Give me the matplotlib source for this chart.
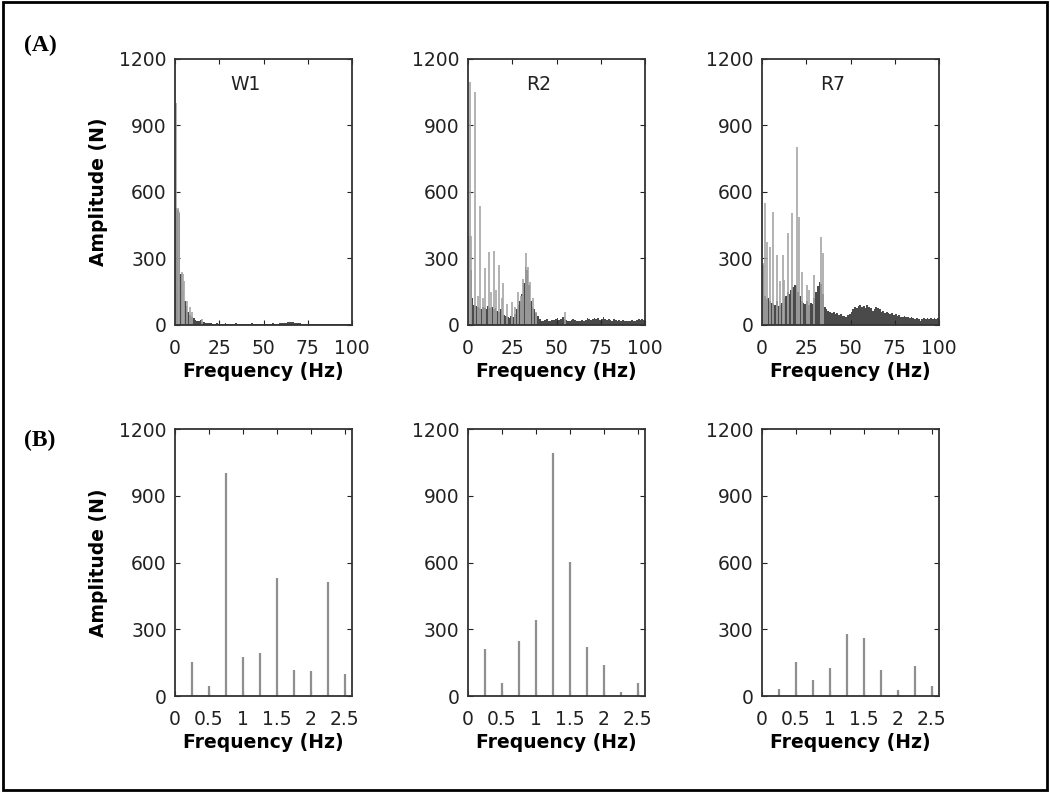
import numpy as np
import matplotlib as mpl
mpl.use('agg')
import matplotlib.pyplot as plt
from matplotlib.patches import Rectangle

plt.rcParams['font.family'] = ['DejaVu Sans']

##--##--  data  --##--##
# (A) spectra: dark "base" level per 1 Hz bin (0..99 Hz) and lighter spikes
w1_base = [530, 520, 505, 230, 160, 110, 85, 60, 45, 38,
           30, 22, 18, 16, 22, 15, 12, 10, 9, 8,
           7, 6, 6, 7, 5, 6, 5, 6, 7, 5,
           6, 5, 6, 5, 7, 6, 5, 6, 5, 6,
           5, 6, 5, 7, 6, 5, 6, 5, 6, 5,
           6, 5, 6, 5, 6, 7, 6, 5, 6, 7,
           8, 9, 10, 12, 14, 13, 12, 10, 9, 8,
           7, 6, 6, 5, 6, 5, 6, 5, 5, 6,
           5, 5, 6, 5, 5, 4, 5, 5, 4, 5,
           4, 5, 4, 4, 5, 4, 4, 5, 4, 4]
w1_spk_f = [0.75, 1.5, 2.25, 3.75, 4.5, 5.25, 6.5, 8.3, 9.5, 15.5]
w1_spk_a = [1000, 530, 510, 240, 230, 200, 110, 80, 60, 28]

r2_base = [190, 250, 120, 90, 85, 80, 75, 70, 80, 75,
           70, 85, 75, 80, 70, 75, 65, 60, 70, 55,
           45, 40, 35, 30, 40, 35, 50, 70, 90, 110,
           140, 190, 260, 250, 180, 110, 80, 70, 55, 40,
           25, 20, 18, 22, 25, 20, 18, 24, 22, 26,
           30, 22, 28, 35, 25, 22, 20, 18, 24, 28,
           22, 18, 16, 20, 22, 18, 24, 30, 26, 22,
           28, 32, 26, 30, 24, 28, 34, 26, 22, 28,
           24, 20, 26, 22, 18, 24, 20, 22, 18, 16,
           20, 18, 22, 16, 20, 24, 28, 22, 26, 24]
r2_spk_f = [0.25, 0.5, 0.75, 1.25, 1.75, 3.75, 5.5, 7.0, 8.5, 9.4, 11.7, 13.0,
            14.7, 16.0, 17.5, 19.0, 20.0, 22.2, 25.0, 26.5, 28.3, 30.0, 31.0,
            33.0, 34.0, 35.0, 36.5, 38.7, 55.0]
r2_spk_a = [390, 400, 400, 1095, 400, 1050, 130, 537, 120, 256, 331, 150,
            334, 160, 271, 120, 191, 95, 102, 80, 150, 130, 206,
            323, 260, 195, 120, 60, 60]

r7_base = [270, 130, 115, 120, 110, 100, 95, 90, 110, 85,
           90, 100, 120, 130, 150, 140, 160, 170, 180, 175,
           150, 130, 110, 100, 95, 110, 90, 100, 95, 120,
           150, 175, 195, 185, 140, 80, 70, 65, 60, 55,
           60, 50, 55, 45, 50, 40, 42, 38, 45, 50,
           60, 70, 80, 75, 85, 90, 80, 85, 75, 90,
           80, 75, 65, 70, 80, 75, 70, 60, 65, 55,
           60, 55, 50, 55, 45, 50, 40, 45, 38, 35,
           40, 35, 38, 30, 35, 32, 28, 30, 25, 20,
           28, 30, 25, 32, 28, 30, 26, 30, 28, 32]
r7_spk_f = [0.5, 1.9, 2.8, 4.7, 6.2, 8.5, 10.0, 11.7, 12.6, 14.5, 17.0, 19.8,
            21.0, 22.6, 25.5, 26.8, 29.2, 33.4, 34.3]
r7_spk_a = [278, 549, 376, 353, 511, 316, 200, 316, 203, 413, 507, 804,
            489, 240, 180, 158, 226, 396, 323]

# (B) low-frequency components
low_f = [0.25, 0.5, 0.75, 1.0, 1.25, 1.5, 1.75, 2.0, 2.25, 2.5]
w1_low = [151, 46, 1002, 174, 192, 530, 117, 112, 512, 97]
r2_low = [212, 57, 248, 342, 1092, 602, 222, 140, 17, 58]
r7_low = [30, 151, 70, 127, 277, 262, 115, 25, 136, 46]

names = ['W1', 'R2', 'R7']
top_base = [w1_base, r2_base, r7_base]
top_spk = [(w1_spk_f, w1_spk_a), (r2_spk_f, r2_spk_a), (r7_spk_f, r7_spk_a)]
bot_low = [w1_low, r2_low, r7_low]

yticks = [0, 300, 600, 900, 1200]
xt_top = [0, 25, 50, 75, 100]
xt_bot = [0, 0.5, 1, 1.5, 2, 2.5]
xt_bot_lab = ['0', '0.5', '1', '1.5', '2', '2.5']

##--##--##--  create figure  --##--##--##
fig = plt.figure(figsize=(10.5, 7.93), dpi=100)

lefts = [0.1667, 0.4457, 0.7257]
w = 0.1686


def style(ax, first):
  ax.set_ylim(0, 1200)
  ax.set_yticks(yticks)
  ax.tick_params(axis='both', direction='in', top=True, right=True,
                 length=3.5, width=0.8, labelsize=13.5, colors='#222222')
  ax.tick_params(axis='y', pad=6)
  ax.tick_params(axis='x', pad=10)
  for s in ax.spines.values():
    s.set_linewidth(1.3)
    s.set_color('#333333')
  ax.set_xlabel('Frequency (Hz)', fontsize=13.5, fontweight='bold', labelpad=3)
  if first:
    ax.set_ylabel('Amplitude (N)', fontsize=13.5, fontweight='bold', labelpad=8)
  return ax


edges = np.arange(101)
for i in range(3):
  ax = fig.add_axes([lefts[i], 0.5902, w, 0.3354])
  style(ax, i == 0)
  ax.set_xlim(0, 100)
  ax.set_xticks(xt_top)
  f, a = top_spk[i]
  ax.vlines(f, 0, a, color='#a6a6a6', linewidth=1.2)
  yb = np.append(top_base[i], top_base[i][-1])
  ax.fill_between(edges, 0, yb, step='post', facecolor='#4a4a4a',
                  edgecolor='none', linewidth=0, antialiased=False)
  ax.text(40, 1085, names[i], fontsize=13.5, ha='center', va='center', color='#222222')

for i in range(3):
  ax = fig.add_axes([lefts[i], 0.1223, w, 0.3367])
  style(ax, i == 0)
  ax.set_xlim(0, 2.61)
  ax.set_xticks(xt_bot)
  ax.set_xticklabels(xt_bot_lab)
  ax.vlines(low_f, 0, bot_low[i], color='#8f8f8f', linewidth=1.6)

fig.text(0.023, 0.943, '(A)', fontsize=17, fontweight='bold', family='Liberation Serif', va='center')
fig.text(0.023, 0.445, '(B)', fontsize=17, fontweight='bold', family='Liberation Serif', va='center')

fig.patches.append(Rectangle((0.003, 0.004), 0.994, 0.993, transform=fig.transFigure,
                             fill=False, edgecolor='black', linewidth=2))

fig.savefig('out.png', dpi=100)
